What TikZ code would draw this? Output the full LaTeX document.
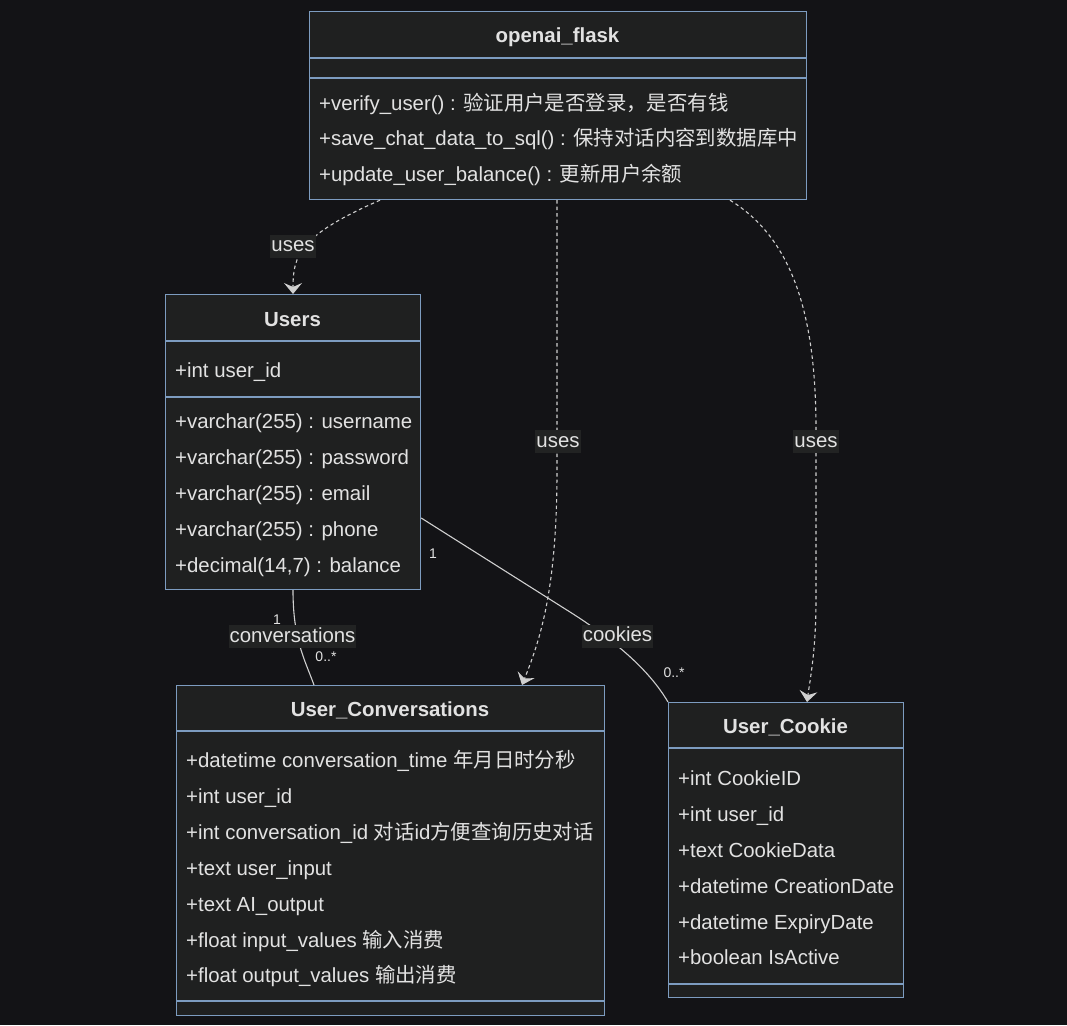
\documentclass[tikz,border=0pt]{standalone}
\usepackage{fontspec}
\setmainfont{Liberation Sans}
\newfontfamily\cjk{Noto Sans CJK SC}
\usetikzlibrary{arrows.meta}
\definecolor{bgc}{HTML}{131316}
\definecolor{boxfill}{HTML}{1F2020}
\definecolor{boxline}{HTML}{7D9CC0}
\definecolor{txt}{HTML}{E2E2E2}
\definecolor{edgec}{HTML}{CFCFCF}
\definecolor{lblbg}{HTML}{222323}
\begin{document}
\begin{tikzpicture}[x=1pt,y=-1pt,
  box/.style={draw=boxline,fill=boxfill,line width=1.2pt,anchor=north west,inner sep=0pt},
  sepline/.style={draw=boxline,line width=1.2pt},
  ttl/.style={text=txt,font=\fontsize{20.4}{24}\selectfont\bfseries,anchor=base,inner sep=0pt},
  row/.style={text=txt,font=\fontsize{20.4}{24}\selectfont,anchor=base west,inner sep=0pt},
  lbl/.style={text=txt,fill=lblbg,font=\fontsize{20.4}{24}\selectfont,inner xsep=1pt,inner ysep=2pt,text height=15pt,text depth=4pt},
  mult/.style={text=txt,font=\fontsize{14}{16}\selectfont,inner sep=0pt},
  dep/.style={draw=edgec,line width=1.1pt,dash pattern=on 3.5pt off 3pt,-{Stealth[length=11pt,width=18pt,inset=4pt,fill=edgec,line width=1pt]}},
  assoc/.style={draw=edgec,line width=1.1pt}]
\fill[bgc] (0,0) rectangle (1067,1025);
\useasboundingbox (0,0) rectangle (1067,1025);

% openai_flask
\node[box,minimum width=497pt,minimum height=188pt] (flask) at (309,11) {};
\draw[sepline] ([yshift=-47pt]flask.north west) -- ([yshift=-47pt]flask.north east);
\draw[sepline] ([yshift=-67pt]flask.north west) -- ([yshift=-67pt]flask.north east);
\node[ttl] (flaskT) at (557.5,43) {openai\_flask};
\node[row] (f1) at (319,110) {+verify\_user() : {\cjk 验证用户是否登录，是否有钱}};
\node[row] (f2) at (319,145) {+save\_chat\_data\_to\_sql() : {\cjk 保持对话内容到数据库中}};
\node[row] (f3) at (319,181) {+update\_user\_balance() : {\cjk 更新用户余额}};

% Users
\node[box,minimum width=255pt,minimum height=295pt] (users) at (165,294) {};
\draw[sepline] ([yshift=-47pt]users.north west) -- ([yshift=-47pt]users.north east);
\draw[sepline] ([yshift=-103pt]users.north west) -- ([yshift=-103pt]users.north east);
\node[ttl] (usersT) at (292.5,326) {Users};
\node[row] (u1) at (175,377) {+int user\_id};
\node[row] (u2) at (175,428) {+varchar(255) : username};
\node[row] (u3) at (175,464) {+varchar(255) : password};
\node[row] (u4) at (175,500) {+varchar(255) : email};
\node[row] (u5) at (175,536) {+varchar(255) : phone};
\node[row] (u6) at (175,572) {+decimal(14,7) : balance};

% User_Conversations
\node[box,minimum width=428pt,minimum height=330pt] (conv) at (176,685) {};
\draw[sepline] ([yshift=-46pt]conv.north west) -- ([yshift=-46pt]conv.north east);
\draw[sepline] ([yshift=-316pt]conv.north west) -- ([yshift=-316pt]conv.north east);
\node[ttl] (convT) at (390,716) {User\_Conversations};
\node[row] (c1) at (186,767) {+datetime conversation\_time {\cjk 年月日时分秒}};
\node[row] (c2) at (186,803) {+int user\_id};
\node[row] (c3) at (186,839) {+int conversation\_id {\cjk 对话}id{\cjk 方便查询历史对话}};
\node[row] (c4) at (186,875) {+text user\_input};
\node[row] (c5) at (186,911) {+text AI\_output};
\node[row] (c6) at (186,947) {+float input\_values {\cjk 输入消费}};
\node[row] (c7) at (186,982) {+float output\_values {\cjk 输出消费}};

% User_Cookie
\node[box,minimum width=235pt,minimum height=295pt] (cookie) at (668,702) {};
\draw[sepline] ([yshift=-46pt]cookie.north west) -- ([yshift=-46pt]cookie.north east);
\draw[sepline] ([yshift=-282pt]cookie.north west) -- ([yshift=-282pt]cookie.north east);
\node[ttl] (cookieT) at (785.5,733) {User\_Cookie};
\node[row] (k1) at (678,785) {+int CookieID};
\node[row] (k2) at (678,821) {+int user\_id};
\node[row] (k3) at (678,857) {+text CookieData};
\node[row] (k4) at (678,893) {+datetime CreationDate};
\node[row] (k5) at (678,929) {+datetime ExpiryDate};
\node[row] (k6) at (678,964) {+boolean IsActive};

% connectors
\draw[dep] ([xshift=71pt]flask.south west) .. controls (300,235) and (293,255) .. ([xshift=128pt]users.north west);
\draw[dep] ([xshift=248pt]flask.south west) -- (557,470) .. controls (557,590) and (540,640) .. ([xshift=346pt]conv.north west);
\draw[dep] ([xshift=421pt]flask.south west) .. controls (795,240) and (816,320) .. (816,430) -- (816,600) .. controls (816,650) and (810,680) .. ([xshift=139pt]cookie.north west);
\draw[assoc] ([xshift=128pt]users.south west) .. controls (293,640) and (305,660) .. ([xshift=138pt]conv.north west);
\draw[assoc] ([yshift=-224pt]users.north east) -- (570,612) .. controls (630,650) and (655,680) .. (cookie.north west);

% labels
\node[lbl] (l1) at (293,246) {uses};
\node[lbl] (l2) at (558,441.5) {uses};
\node[lbl] (l3) at (816,441.5) {uses};
\node[lbl] (l4) at (292.5,636.5) {conversations};
\node[lbl] (l5) at (617.5,636) {cookies};
\node[mult] (m1) at (277,620) {1};
\node[mult] (m2) at (326,657) {0..*};
\node[mult] (m3) at (433,554) {1};
\node[mult] (m4) at (674,673) {0..*};
\end{tikzpicture}
\end{document}
